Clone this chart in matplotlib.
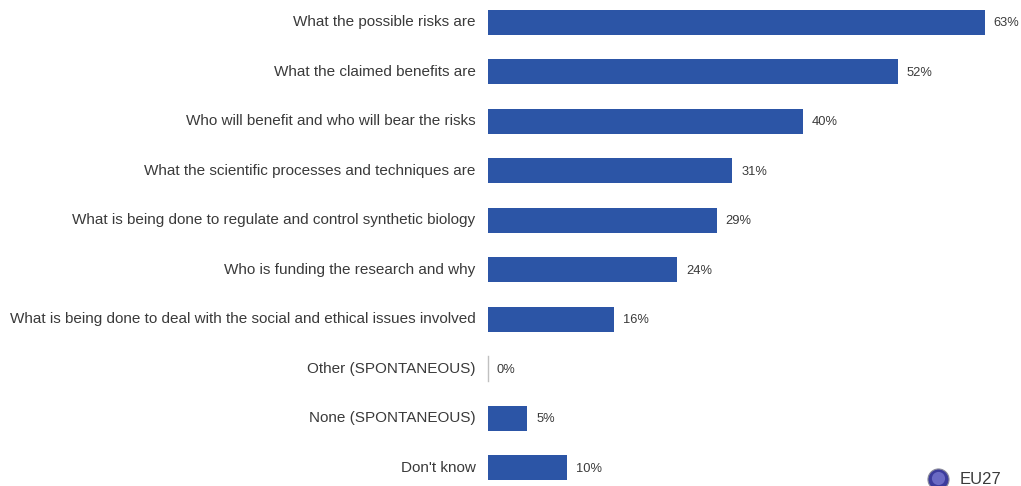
import matplotlib
matplotlib.use('Agg')
import matplotlib.pyplot as plt

categories = ['What the possible risks are', 'What the claimed benefits are',
              'Who will benefit and who will bear the risks',
              'What the scientific processes and techniques are',
              'What is being done to regulate and control synthetic biology',
              'Who is funding the research and why',
              'What is being done to deal with the social and ethical issues involved',
              'Other (SPONTANEOUS)', 'None (SPONTANEOUS)', "Don't know"]
values = [63, 52, 40, 31, 29, 24, 16, 0, 5, 10]
labels = ['63%', '52%', '40%', '31%', '29%', '24%', '16%', '0%', '5%', '10%']

plt.rcParams['font.family'] = ['Liberation Sans', 'DejaVu Sans']

fig = plt.figure(figsize=(10.21, 4.86), dpi=100)
ax = fig.add_axes([0, 0, 1, 1])
ax.set_xlim(-61.9, 67.6)
ax.set_ylim(9.37, -0.45)
ax.axis('off')

y = list(range(len(values)))
ax.barh(y, values, height=0.5, color='#2c55a6')
ax.plot([0, 0], [6.75, 7.25], color='#c0c0c0', lw=1)

for i in y:
    ax.text(-1.6, i, categories[i], ha='right', va='center', fontsize=11, color='#3a3a3a')
    ax.text(values[i] + 1.1, i + 0.02, labels[i], ha='left', va='center', fontsize=9.3, color='#3a3a3a')

# legend marker and label
leg_x = -61.9 + 938 / 1021 * 129.5
ax.scatter([leg_x], [9.23], s=230, color='#3c3c9c', edgecolor='#8a8a9a', linewidth=0.8)
ax.scatter([leg_x], [9.2], s=90, color='#6a6ac4', linewidth=0)
ax.text(-61.9 + 960 / 1021 * 129.5, 9.23, 'EU27', ha='left', va='center', fontsize=12, color='#3a3a3a')

fig.savefig('out.png', dpi=100)
